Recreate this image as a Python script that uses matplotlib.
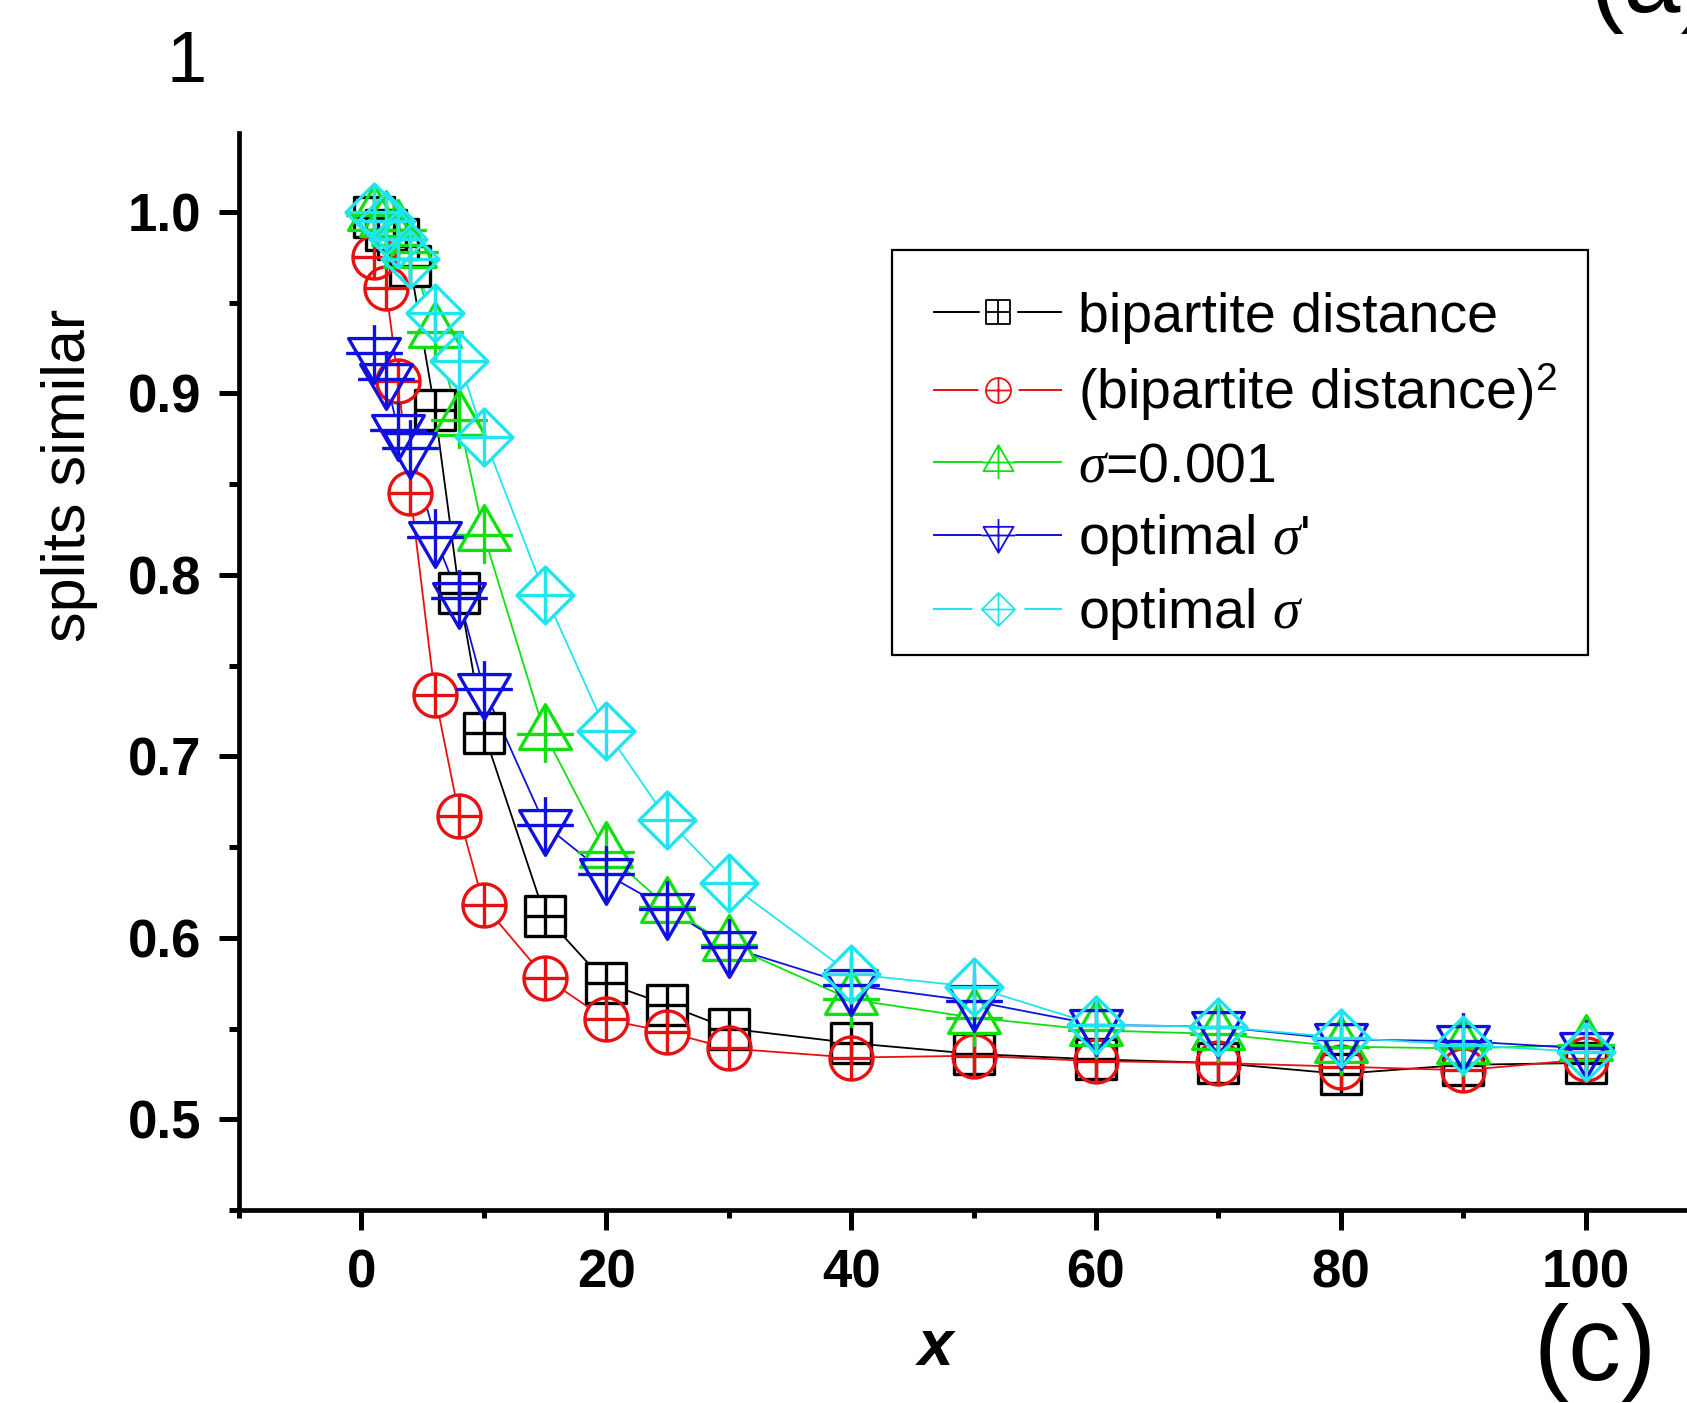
import matplotlib.pyplot as plt
from matplotlib.path import Path
from matplotlib.lines import Line2D
from matplotlib.patches import Rectangle
from matplotlib.legend_handler import HandlerTuple
from matplotlib.ticker import MultipleLocator

plt.rcParams['font.family'] = ['Liberation Sans', 'DejaVu Sans']
plt.rcParams['mathtext.fontset'] = 'custom'
plt.rcParams['mathtext.rm'] = 'Liberation Sans'
plt.rcParams['mathtext.it'] = 'Liberation Serif:italic'

# data
x = [1, 2, 3, 4, 6, 8, 10, 15, 20, 25, 30, 40, 50, 60, 70, 80, 90, 100]
bip = [0.997, 0.990, 0.985, 0.970, 0.891, 0.790, 0.713, 0.612, 0.575, 0.563,
       0.550, 0.542, 0.536, 0.533, 0.531, 0.525, 0.530, 0.531]
bip_sq = [0.975, 0.958, 0.907, 0.845, 0.734, 0.667, 0.618, 0.578, 0.555, 0.548,
          0.539, 0.534, 0.535, 0.532, 0.531, 0.529, 0.527, 0.533]
sigma_001 = [0.998, 0.995, 0.990, 0.978, 0.934, 0.885, 0.822, 0.712, 0.647, 0.617,
             0.596, 0.566, 0.556, 0.549, 0.547, 0.540, 0.539, 0.541]
opt_sigma_p = [0.922, 0.908, 0.880, 0.870, 0.821, 0.787, 0.737, 0.662, 0.635, 0.616,
               0.595, 0.574, 0.565, 0.552, 0.551, 0.544, 0.543, 0.539]
opt_sigma = [1.000, 0.995, 0.985, 0.974, 0.944, 0.918, 0.876, 0.789, 0.714, 0.665,
             0.630, 0.580, 0.573, 0.552, 0.551, 0.545, 0.541, 0.537]

labels = ['bipartite distance', '(bipartite distance)$^2$', r'$\sigma$=0.001',
          r"optimal $\sigma$'", r'optimal $\sigma$']
colors = ['black', '#e81010', '#10e010', '#1010e0', '#20e4ee']


# Origin-style symbols: outline plus a cross through the centre
def with_plus(verts, arm):
    codes = [Path.MOVETO] + [Path.LINETO] * (len(verts) - 2) + [Path.CLOSEPOLY]
    outline = Path(verts, codes)
    plus = Path([(-arm, 0), (arm, 0), (0, -arm), (0, arm)],
                [Path.MOVETO, Path.LINETO, Path.MOVETO, Path.LINETO])
    return outline, Path.make_compound_path(outline, plus)


sq_out, sq = with_plus([(-1, -1), (1, -1), (1, 1), (-1, 1), (-1, -1)], 1)
circ_out = Path.unit_circle()
circ = Path.make_compound_path(circ_out, Path([(-1, 0), (1, 0), (0, -1), (0, 1)],
                               [Path.MOVETO, Path.LINETO, Path.MOVETO, Path.LINETO]))
up_out, up = with_plus([(0, 1), (-0.866, -0.5), (0.866, -0.5), (0, 1)], 0.95)
dn_out, dn = with_plus([(0, -1), (-0.866, 0.5), (0.866, 0.5), (0, -1)], 0.95)
di_out, di = with_plus([(0, 1), (1, 0), (0, -1), (-1, 0), (0, 1)], 1)

markers = [sq, circ, up, dn, di]
outlines = [sq_out, circ_out, up_out, dn_out, di_out]
sizes = [29, 31, 43, 43, 41]
series = [bip, bip_sq, sigma_001, opt_sigma_p, opt_sigma]

fig = plt.figure(figsize=(16.87, 14.03), dpi=100)
ax = fig.add_axes([239 / 1687, 1 - 1210 / 1403, 1469 / 1687, 1077 / 1403])

for y, c in zip(series, colors):
    ax.plot(x, y, color=c, lw=1.3, zorder=1)
# white blanks so the lines stop at the symbols
for y, o, s in zip(series, outlines, sizes):
    ax.plot(x, y, ls='none', marker=o, ms=s, mfc='white', mec='none', zorder=2)
for y, m, s, c in zip(series, markers, sizes, colors):
    ax.plot(x, y, ls='none', marker=m, ms=s, mfc='none', mec=c, mew=2.4, zorder=3)

ax.set_xlim(-10, 110)
ax.set_ylim(0.45, 1.0434)
ax.xaxis.set_major_locator(MultipleLocator(20))
ax.xaxis.set_minor_locator(MultipleLocator(10))
ax.yaxis.set_major_locator(MultipleLocator(0.1))
ax.yaxis.set_minor_locator(MultipleLocator(0.05))
ax.yaxis.set_major_formatter(lambda v, p: f'{v:.1f}')

for side in ['top', 'right']:
    ax.spines[side].set_visible(False)
for side in ['left', 'bottom']:
    ax.spines[side].set_linewidth(3.4)
ax.tick_params(which='both', direction='out', width=3.6)
ax.tick_params(which='major', length=14.4, pad=13, labelsize=38)
ax.tick_params(axis='y', which='minor', length=7.2)
ax.tick_params(axis='x', which='minor', length=6)
for lab in ax.get_xticklabels() + ax.get_yticklabels():
    lab.set_fontweight('bold')

fig.text(70 / 1687, 1 - 475 / 1403, 'splits similar', rotation=90, fontsize=44,
         ha='center', va='center')
fig.text(936 / 1687, 1 - 1348 / 1403, 'x', fontsize=46, fontweight='bold',
         fontstyle='italic', ha='center', va='center')

# legend handles: line broken around a small symbol
handles = []
for m, o, s, c in zip(markers, outlines, sizes, colors):
    gap = Line2D([], [], color=c, lw=1.4, marker=o, ms=s * 0.9, mfc='white', mec='white')
    sym = Line2D([], [], ls='none', marker=m, ms=s * 0.58, mfc='none', mec=c, mew=1.3)
    handles.append((gap, sym))
leg = fig.legend(handles, labels, loc='upper left',
                 handler_map={tuple: HandlerTuple(ndivide=1)},
                 bbox_to_anchor=(892 / 1687, 1 - 250 / 1403), borderaxespad=0,
                 fontsize=40, handlelength=2.3, handletextpad=0.3, borderpad=0.75,
                 labelspacing=0.33, frameon=False)
# legend box drawn separately (tighter at the bottom than the legend's own frame)
fig.patches.append(Rectangle((892 / 1687, 1 - 655 / 1403), 696 / 1687, 405 / 1403,
                             transform=fig.transFigure, fill=False,
                             edgecolor='black', lw=1.6, zorder=0))

# panel letters cut off by the crop of the original figure
fig.text(187 / 1687, 1 - 63 / 1403, '1', fontsize=52, ha='center', va='center')
fig.text(1590 / 1687, 1 - 12 / 1403, '(a)', fontsize=74, ha='left', va='baseline')
fig.text(1595 / 1687, 1 - 1353 / 1403, '(c)', fontsize=76, ha='center', va='center')

fig.savefig('out.png', dpi=100)
